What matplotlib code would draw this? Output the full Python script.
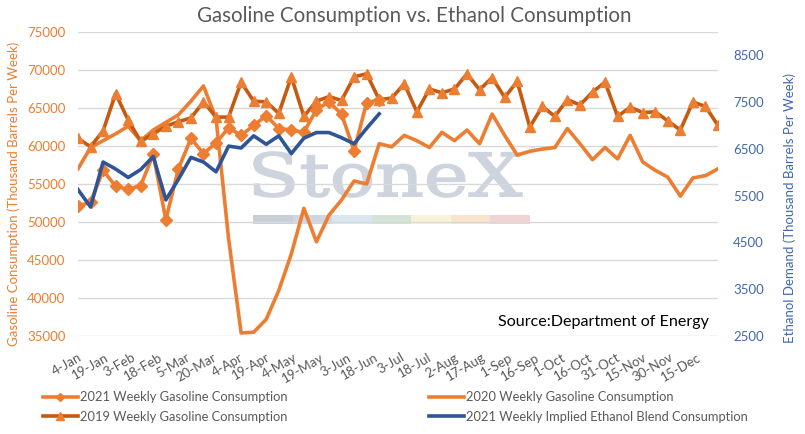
import numpy as np
import pandas as pd
import matplotlib
matplotlib.use("Agg")
import matplotlib.pyplot as plt
from matplotlib.textpath import TextPath
from matplotlib.patches import PathPatch, Rectangle
from matplotlib.font_manager import FontProperties
from matplotlib.transforms import Affine2D
from matplotlib.lines import Line2D

plt.rcParams['font.family'] = ['Lato', 'DejaVu Sans']

# ---------------- data ----------------
gas_2021 = [52100, 52600, 56800, 54700, 54300, 54800, 58900, 50300, 57000, 61000,
            59000, 60400, 62400, 61400, 62700, 64000, 62300, 62100, 61800, 64800,
            65800, 64200, 59400, 65700, 66100]
gas_2020 = [57000, 59800, 60700, 61600, 62600, 60700, 62100, 63100, 64100, 65900,
            67900, 63600, 47800, 35400, 35500, 37200, 41000, 45800, 51800, 47400,
            50900, 52900, 55400, 55000, 60300, 59900, 61400, 60700, 59800, 61800,
            60700, 62100, 60300, 64200, 61400, 58800, 59300, 59600, 59800, 62300,
            60300, 58200, 59800, 58300, 61400, 57900, 56800, 55900, 53400, 55800,
            56100, 57000]
gas_2019 = [61000, 59900, 62000, 66900, 63400, 60600, 61600, 62600, 63200, 63700,
            65800, 63800, 63800, 68400, 65900, 65800, 64300, 69100, 63900, 65900,
            66500, 66000, 69100, 69500, 66100, 66300, 68200, 64500, 67500, 67000,
            67500, 69500, 67400, 69000, 66400, 68500, 62500, 65200, 63900, 66100,
            65400, 67100, 68400, 63900, 65100, 64400, 64500, 63300, 62100, 65800,
            65200, 62700]
eth_2021 = [5630, 5260, 6220, 6070, 5890, 6060, 6340, 5410, 5850, 6320,
            6220, 6010, 6560, 6520, 6780, 6600, 6780, 6400, 6730, 6850,
            6850, 6740, 6610, 6940, 7250]

week_start = '2021-01-04'
n_weeks = 52
tick_labels = ['4-Jan', '19-Jan', '3-Feb', '18-Feb', '5-Mar', '20-Mar', '4-Apr',
               '19-Apr', '4-May', '19-May', '3-Jun', '18-Jun', '3-Jul', '18-Jul',
               '2-Aug', '17-Aug', '1-Sep', '16-Sep', '1-Oct', '16-Oct', '31-Oct',
               '15-Nov', '30-Nov', '15-Dec']
left_ticks = [35000, 40000, 45000, 50000, 55000, 60000, 65000, 70000, 75000]
right_ticks = [2500, 3500, 4500, 5500, 6500, 7500, 8500]

dates = pd.date_range(week_start, periods=n_weeks, freq='7D')
tick_dates = pd.date_range(week_start, periods=len(tick_labels), freq='15D')

# ---------------- colours ----------------
C_ORANGE = '#ED7D31'
C_DARK = '#C55A11'
C_BLUE = '#2F5597'
C_AXBLUE = '#4068B0'
C_TEXT = '#595959'
C_GRID = '#D9D9D9'
C_WM = '#CDD4DD'

W, H = 805, 434
fig = plt.figure(figsize=(W / 100, H / 100), dpi=100)
fig.patch.set_facecolor('white')

# background axes for watermark (pixel coordinates)
bg = fig.add_axes([0, 0, 1, 1], zorder=0)
bg.set_xlim(0, W)
bg.set_ylim(H, 0)
bg.axis('off')

tp = TextPath((0, 0), "StoneX", size=100, prop=FontProperties(family='DejaVu Serif'))
bb = tp.get_extents()
sx = 268 / bb.width
sy = 45 / bb.height
tr = Affine2D().translate(-bb.x0, -bb.y0).scale(sx, -sy).translate(254, 197) + bg.transData
bg.add_patch(PathPatch(tp, transform=tr, facecolor=C_WM, edgecolor=C_WM, lw=1.2))
bg.text(528, 150, '\u2122', fontsize=7, color=C_WM, ha='left', va='center')
bar_cols = ['#C9CFD8', '#CED7E1', '#DAE7F1', '#D3E3D5', '#F6F3DA', '#F7E4CC', '#F1D3D5']
seg_w = 277 / len(bar_cols)
for k, c in enumerate(bar_cols):
    bg.add_patch(Rectangle((253 + k * seg_w, 215), seg_w, 9, facecolor=c, edgecolor='none'))

# main axes
ax = fig.add_axes([78 / W, 1 - 336 / H, 640 / W, 304 / H], zorder=1)
ax.set_facecolor('none')
ax2 = ax.twinx()

ax.plot(dates[:len(gas_2020)], gas_2020, color=C_ORANGE, lw=2.6, zorder=3,
        label='2020 Weekly Gasoline Consumption')
ax.plot(dates[:len(gas_2019)], gas_2019, color=C_DARK, lw=2.6, zorder=4,
        marker='^', markersize=7.5, markerfacecolor=C_ORANGE, markeredgecolor=C_ORANGE,
        label='2019 Weekly Gasoline Consumption')
ax.plot(dates[:len(gas_2021)], gas_2021, color=C_ORANGE, lw=2.6, zorder=5,
        marker='D', markersize=6, markerfacecolor=C_ORANGE, markeredgecolor=C_ORANGE,
        label='2021 Weekly Gasoline Consumption')
ax2.plot(dates[:len(eth_2021)], eth_2021, color=C_BLUE, lw=2.6,
         label='2021 Weekly Implied Ethanol Blend Consumption')

ax.set_xlim(dates[0], dates[-1])
ax.set_ylim(35000, 75000)
ax2.set_ylim(2500, 9000)
ax.set_yticks(left_ticks)
ax2.set_yticks(right_ticks)
ax.set_yticklabels([str(v) for v in left_ticks])
ax2.set_yticklabels([str(v) for v in right_ticks])
ax.set_xticks(tick_dates)
ax.set_xticklabels(tick_labels, rotation=30, ha='right', rotation_mode='anchor')

ax.grid(axis='y', color=C_GRID, lw=1, zorder=0)
ax.set_axisbelow(True)
for a in (ax, ax2):
    for s in a.spines.values():
        s.set_visible(False)

FS = 9.5
ax.tick_params(axis='y', length=0, pad=9, labelsize=FS, labelcolor=C_ORANGE)
ax2.tick_params(axis='y', length=0, pad=11, labelsize=FS, labelcolor=C_AXBLUE)
ax.tick_params(axis='x', length=0, pad=11, labelsize=FS, labelcolor=C_TEXT)

fig.text(14 / W, 1 - 194 / H, 'Gasoline Consumption (Thousand Barrels Per Week)',
         rotation=90, ha='center', va='center', fontsize=FS, color=C_ORANGE)
fig.text(790 / W, 1 - 208 / H, 'Ethanol Demand (Thousand Barrels Per Week)',
         rotation=90, ha='center', va='center', fontsize=FS, color=C_AXBLUE)

fig.text(414 / W, 1 - 16 / H, 'Gasoline Consumption vs. Ethanol Consumption',
         ha='center', va='center', fontsize=14.8, color=C_TEXT)
fig.text(709 / W, 1 - 322 / H, 'Source:Department of Energy',
         ha='right', va='center', fontsize=11.6, color='black')

# legend
h21 = Line2D([0, 1, 2], [0, 0, 0], color=C_ORANGE, lw=2.6, marker='D', markersize=4,
             markevery=[1])
h19 = Line2D([0, 1, 2], [0, 0, 0], color=C_DARK, lw=2.6, marker='^', markersize=6,
             markerfacecolor=C_ORANGE, markeredgecolor=C_ORANGE, markevery=[1])
h20 = Line2D([], [], color=C_ORANGE, lw=2.6)
heth = Line2D([], [], color=C_BLUE, lw=2.6)
LFS = 9.3
leg = fig.legend([h21, h19, h20, heth],
                 ['2021 Weekly Gasoline Consumption', '2019 Weekly Gasoline Consumption',
                  '2020 Weekly Gasoline Consumption',
                  '2021 Weekly Implied Ethanol Blend Consumption'],
                 ncol=2, loc='center left', bbox_to_anchor=(43 / W, 1 - 407 / H),
                 frameon=False, fontsize=LFS, handlelength=2.7, handletextpad=0.15,
                 columnspacing=11.0, labelspacing=0.55, borderpad=0, borderaxespad=0)
for t in leg.get_texts():
    t.set_color(C_TEXT)

fig.savefig('out.png', dpi=100)
